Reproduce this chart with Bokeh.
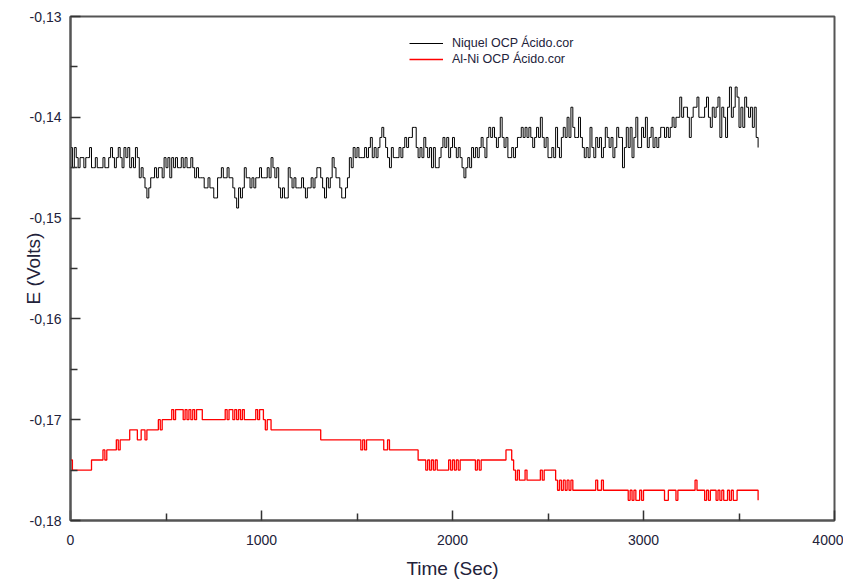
import numpy as np
from bokeh.plotting import figure
from bokeh.models import (FixedTicker, CustomJSTickFormatter, Legend, LegendItem,
                          Range1d, ColumnDataSource)
from bokeh.embed import file_html
from bokeh.resources import INLINE

# ---------------- data (potential in mV, one sample every 10 s) ----------------
sample_step_s = 10

niquel_mv = [
    -143, -145, -143, -144, -145, -144, -144, -145, -144, -144,
    -143, -145, -145, -144, -145, -145, -145, -144, -145, -145,
    -144, -143, -144, -145, -144, -143, -144, -145, -143, -144,
    -143, -145, -144, -145, -143, -144, -146, -145, -146, -147,
    -148, -147, -146, -146, -145, -146, -145, -145, -146, -144,
    -145, -144, -146, -144, -145, -144, -145, -145, -144, -145,
    -144, -145, -145, -144, -145, -146, -145, -146, -146, -146,
    -147, -147, -146, -147, -147, -148, -148, -146, -146, -145,
    -146, -146, -145, -146, -146, -147, -148, -149, -147, -148,
    -147, -145, -146, -146, -147, -146, -147, -146, -146, -145,
    -146, -146, -146, -145, -146, -144, -145, -146, -145, -147,
    -148, -147, -148, -148, -145, -146, -147, -146, -147, -147,
    -147, -146, -147, -148, -147, -147, -146, -147, -146, -145,
    -145, -146, -147, -148, -146, -147, -146, -144, -145, -146,
    -146, -147, -148, -148, -147, -146, -144, -145, -143, -144,
    -143, -144, -144, -144, -143, -144, -143, -142, -144, -143,
    -144, -143, -142, -141, -142, -143, -144, -145, -143, -144,
    -144, -144, -143, -144, -143, -142, -143, -142, -142, -141,
    -141, -143, -144, -143, -144, -142, -143, -144, -143, -145,
    -143, -145, -145, -144, -143, -142, -143, -142, -144, -143,
    -142, -143, -144, -143, -144, -145, -146, -145, -144, -145,
    -143, -144, -143, -144, -143, -142, -143, -144, -142, -141,
    -142, -141, -142, -143, -142, -140, -142, -143, -142, -144,
    -144, -143, -144, -143, -142, -142, -141, -142, -141, -142,
    -141, -142, -143, -142, -141, -142, -140, -142, -143, -142,
    -144, -144, -143, -144, -141, -143, -144, -142, -141, -142,
    -140, -142, -139, -141, -142, -142, -140, -142, -143, -144,
    -143, -144, -141, -143, -144, -142, -143, -142, -144, -143,
    -141, -142, -143, -142, -144, -143, -141, -142, -142, -145,
    -143, -141, -143, -141, -144, -142, -140, -143, -143, -141,
    -142, -140, -143, -142, -141, -143, -142, -143, -142, -141,
    -141, -142, -141, -142, -141, -140, -141, -140, -140, -138,
    -140, -139, -139, -140, -142, -140, -139, -139, -138, -140,
    -140, -140, -139, -138, -140, -141, -139, -140, -139, -138,
    -142, -139, -140, -142, -139, -137, -140, -139, -137, -138,
    -141, -139, -141, -138, -139, -140, -139, -141, -139, -142,
    -143,
]

alni_mv = [
    -174, -175, -175, -175, -175, -175, -175, -175, -175, -175,
    -175, -174, -174, -174, -174, -174, -174, -173, -174, -173,
    -173, -173, -173, -173, -172, -173, -172, -172, -172, -172,
    -172, -171, -171, -171, -171, -172, -172, -171, -171, -172,
    -171, -171, -171, -171, -171, -171, -170, -171, -170, -170,
    -170, -170, -170, -169, -170, -169, -169, -169, -169, -170,
    -169, -170, -169, -170, -169, -170, -169, -169, -169, -170,
    -170, -170, -170, -170, -170, -170, -170, -170, -170, -170,
    -170, -169, -170, -169, -169, -170, -169, -170, -169, -170,
    -169, -170, -170, -170, -170, -170, -170, -169, -170, -169,
    -169, -170, -171, -170, -170, -171, -171, -171, -171, -171,
    -171, -171, -171, -171, -171, -171, -171, -171, -171, -171,
    -171, -171, -171, -171, -171, -171, -171, -171, -171, -171,
    -171, -172, -172, -172, -172, -172, -172, -172, -172, -172,
    -172, -172, -172, -172, -172, -172, -172, -172, -172, -172,
    -172, -172, -173, -172, -173, -172, -172, -172, -172, -172,
    -172, -172, -172, -172, -173, -173, -172, -173, -173, -173,
    -173, -173, -173, -173, -173, -173, -173, -173, -173, -173,
    -173, -173, -174, -174, -174, -174, -175, -174, -175, -174,
    -175, -174, -175, -175, -175, -175, -175, -175, -174, -175,
    -174, -175, -174, -175, -174, -174, -174, -174, -174, -174,
    -174, -174, -175, -174, -175, -174, -174, -174, -174, -174,
    -174, -174, -174, -174, -174, -174, -174, -174, -173, -173,
    -173, -174, -175, -176, -175, -176, -176, -176, -175, -176,
    -176, -176, -176, -176, -176, -176, -175, -176, -175, -175,
    -175, -175, -175, -175, -176, -177, -176, -177, -176, -177,
    -176, -177, -176, -177, -177, -177, -177, -177, -177, -177,
    -177, -177, -177, -177, -177, -176, -177, -177, -176, -177,
    -177, -177, -177, -177, -177, -177, -177, -177, -177, -177,
    -177, -177, -178, -177, -178, -177, -178, -178, -177, -178,
    -177, -177, -177, -177, -177, -177, -177, -177, -177, -177,
    -177, -178, -178, -177, -177, -177, -177, -178, -177, -177,
    -177, -177, -177, -177, -177, -177, -177, -176, -177, -177,
    -177, -177, -178, -177, -178, -177, -177, -177, -178, -177,
    -178, -177, -178, -178, -177, -178, -177, -178, -178, -177,
    -177, -177, -177, -177, -177, -177, -177, -177, -177, -177,
    -178,
]

series_labels = ["Niquel OCP Ácido.cor", "Al-Ni OCP Ácido.cor"]
x_ticks = [0, 1000, 2000, 3000, 4000]
x_minor = [500, 1500, 2500, 3500]
y_ticks = [-0.18, -0.17, -0.16, -0.15, -0.14, -0.13]
y_minor = [-0.175, -0.165, -0.155, -0.145, -0.135]

t_ni = np.arange(len(niquel_mv)) * sample_step_s
t_al = np.arange(len(alni_mv)) * sample_step_s
src_ni = ColumnDataSource(dict(t=t_ni, e=np.array(niquel_mv) / 1000.0))
src_al = ColumnDataSource(dict(t=t_al, e=np.array(alni_mv) / 1000.0))

FONT = "Liberation Sans"
TXT = "#22223a"
FRAME = "#555555"

p = figure(width=843, height=581, output_backend="svg", toolbar_location=None,
           x_range=Range1d(0, 4000), y_range=Range1d(-0.18, -0.13),
           min_border_left=70, min_border_right=9, min_border_top=16,
           min_border_bottom=60, background_fill_color="white",
           border_fill_color="white")
p.grid.visible = False
p.outline_line_color = FRAME
p.outline_line_width = 2

rb = p.step("t", "e", source=src_ni, mode="after", line_color="black", line_width=1)
rr = p.step("t", "e", source=src_al, mode="after", line_color="#ff0000", line_width=1.3)

for ax in (p.xaxis[0], p.yaxis[0]):
    ax.axis_line_color = FRAME
    ax.axis_line_width = 2
    ax.major_tick_line_color = "#333333"
    ax.minor_tick_line_color = "#333333"
    ax.major_tick_line_width = 1.5
    ax.minor_tick_line_width = 1.5
    ax.major_tick_in = 10
    ax.major_tick_out = 0
    ax.minor_tick_in = 7
    ax.minor_tick_out = 0
    ax.major_label_text_font = FONT
    ax.major_label_text_font_size = "14px"
    ax.major_label_text_color = TXT
    ax.axis_label_text_font = FONT
    ax.axis_label_text_font_size = "19px"
    ax.axis_label_text_font_style = "normal"
    ax.axis_label_text_color = TXT

p.xaxis.ticker = FixedTicker(ticks=x_ticks, minor_ticks=x_minor)
p.yaxis.ticker = FixedTicker(ticks=y_ticks, minor_ticks=y_minor)
p.yaxis.formatter = CustomJSTickFormatter(code="return tick.toFixed(2).replace('.', ',');")
p.xaxis.axis_label = "Time (Sec)"
p.yaxis.axis_label = "E (Volts)"
p.xaxis.major_label_standoff = 14
p.yaxis.major_label_standoff = 9
p.xaxis.axis_label_standoff = 10
p.yaxis.axis_label_standoff = -17

legend = Legend(items=[LegendItem(label=series_labels[0], renderers=[rb]),
                       LegendItem(label=series_labels[1], renderers=[rr])],
                location=(339, 453), glyph_width=34, glyph_height=16,
                label_height=16, spacing=0, padding=0, margin=0,
                label_standoff=9, label_text_font=FONT,
                label_text_font_size="12.5px", label_text_color=TXT,
                border_line_alpha=0, background_fill_alpha=0)
p.add_layout(legend)

open("out.html", "w").write(file_html(p, INLINE))
